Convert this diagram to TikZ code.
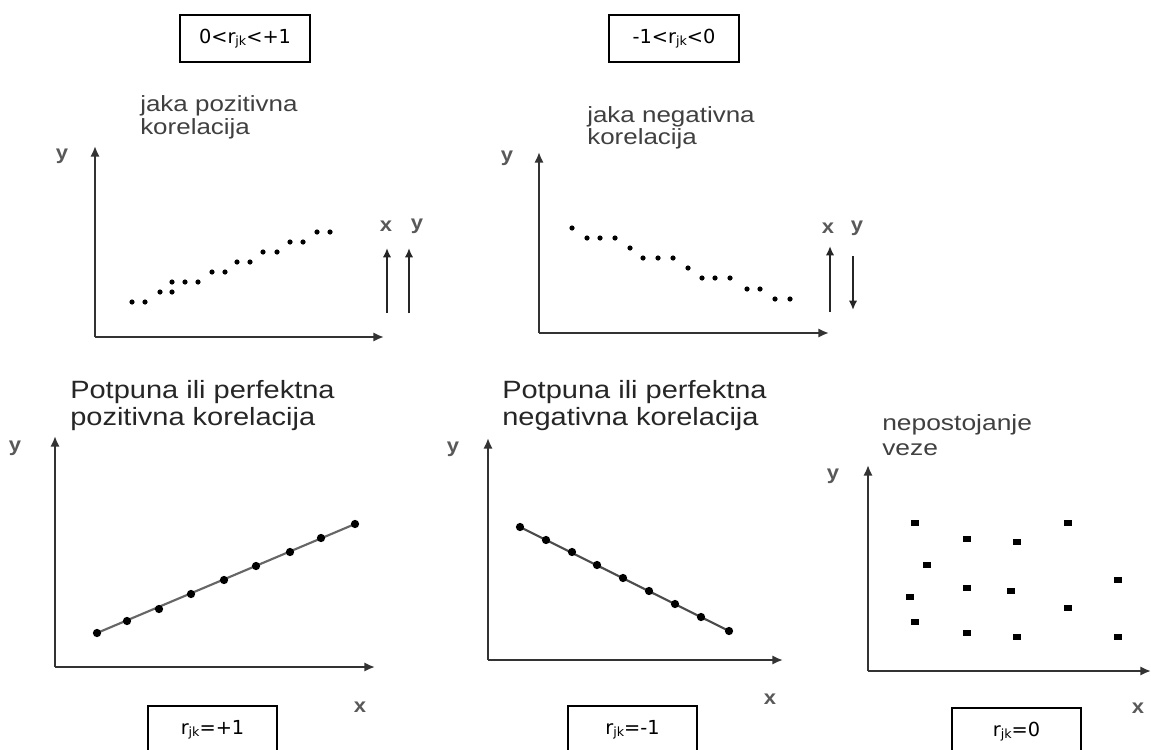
\documentclass[tikz,border=0pt]{standalone}
\usepackage{graphicx}
\usepackage{fontspec}
\setmainfont{Liberation Sans}
\newfontfamily\boxfont{DejaVu Sans}
\usetikzlibrary{arrows.meta}
\newcommand{\rjk}{r\raisebox{-1.4pt}{\fontsize{9.5}{9.5}\selectfont jk}}
\newcommand{\stretchx}[2]{\scalebox{#1}[1]{#2}}
\begin{document}
\begin{tikzpicture}[x=0.75pt,y=-0.75pt,
  axis/.style={draw=black!80,line width=1.8pt,-{Latex[length=8pt,width=7pt]}},
  updown/.style={draw=black!85,line width=1.7pt,-{Latex[length=7pt,width=6.3pt]}},
  dot/.style={circle,fill=black,inner sep=0pt,minimum size=3.9pt},
  bigdot/.style={circle,fill=black,inner sep=0pt,minimum size=6.2pt},
  sqdot/.style={rectangle,fill=black,inner sep=0pt,minimum width=6pt,minimum height=4.4pt},
  perfline/.style={draw=black!60,line width=1.6pt},
  title/.style={inner sep=0pt,anchor=base west,text=black!75,font=\fontsize{16.5}{18}\selectfont},
  bigtitle/.style={inner sep=0pt,anchor=base west,text=black!85,font=\fontsize{18.75}{20}\selectfont},
  lab/.style={inner sep=0pt,text=black!65,font=\bfseries\fontsize{15}{15}\selectfont},
  rbox/.style={draw=black,line width=1.6pt,font=\boxfont\fontsize{14.5}{14.5}\selectfont,
               minimum width=97.5pt,minimum height=35pt,inner sep=0pt},
  rboxb/.style={draw=black,line width=1.6pt,font=\boxfont\fontsize{14.5}{14.5}\selectfont,
               minimum width=96.75pt,anchor=north,inner xsep=0pt,inner ysep=0pt,
               text height=21.5pt,text depth=24pt}
]
\useasboundingbox (0,0) rectangle (1151,749);
\fill[white] (0,0) rectangle (1151,749);

% ---------- top boxes ----------
\node[rbox] (boxTL) at (245,38.5) {0<\rjk<+1};
\node[rbox] (boxTR) at (674,38.5) {-1<\rjk<0};

% ---------- top-left panel ----------
\node[title] (tTL1) at (140,111) {\stretchx{1.18}{jaka pozitivna}};
\node[title] (tTL2) at (140,134) {\stretchx{1.18}{korelacija}};
\coordinate (tlO) at (95,337);
\coordinate (tlY) at (95,146);
\coordinate (tlX) at (384,337);
\draw[axis] (tlO) -- (tlY);
\draw[axis] (tlO) -- (tlX);
\node[lab] (tlYl) at (62,156) {\stretchx{1.1}{y}};
\foreach \i/\px/\py in {1/132/302,2/145/302,3/160/292,4/172/292,5/172/282,6/185/282,7/198/282,
  8/212/272,9/225/272,10/237/262,11/250/262,12/263/252,13/277/252,14/290/242,15/303/242,16/317/232,17/330/232}
  \node[dot] (tld\i) at (\px,\py) {};
\node[lab] (tlxl) at (386,226) {\stretchx{1.1}{x}};
\node[lab] (tlyl2) at (417,226) {\stretchx{1.1}{y}};
\coordinate (tlxa0) at (387,313);
\coordinate (tlxa1) at (387,248);
\coordinate (tlya0) at (409,313);
\coordinate (tlya1) at (409,248);
\draw[updown] (tlxa0) -- (tlxa1);
\draw[updown] (tlya0) -- (tlya1);

% ---------- top-right panel ----------
\node[title] (tTR1) at (587,122) {\stretchx{1.18}{jaka negativna}};
\node[title] (tTR2) at (587,144) {\stretchx{1.18}{korelacija}};
\coordinate (trO) at (539,333);
\coordinate (trY) at (539,152);
\coordinate (trX) at (829,333);
\draw[axis] (trO) -- (trY);
\draw[axis] (trO) -- (trX);
\node[lab] (trYl) at (507,158) {\stretchx{1.1}{y}};
\foreach \i/\px/\py in {1/572/228,2/587/238,3/600/238,4/615/238,5/630/248,6/643/258,7/658/258,8/673/258,
  9/688/268,10/702/278,11/715/278,12/730/278,13/747/289,14/760/289,15/775/299,16/790/299}
  \node[dot] (trd\i) at (\px,\py) {};
\node[lab] (trxl) at (828,228) {\stretchx{1.1}{x}};
\node[lab] (tryl2) at (857,228) {\stretchx{1.1}{y}};
\coordinate (trxa0) at (830,312);
\coordinate (trxa1) at (830,246);
\coordinate (trya0) at (853,256);
\coordinate (trya1) at (853,310);
\draw[updown] (trxa0) -- (trxa1);
\draw[updown] (trya0) -- (trya1);

% ---------- bottom-left panel ----------
\node[bigtitle] (tBL1) at (70,398) {\stretchx{1.16}{Potpuna ili perfektna}};
\node[bigtitle] (tBL2) at (70,425) {\stretchx{1.16}{pozitivna korelacija}};
\coordinate (blO) at (55,667);
\coordinate (blY) at (55,436);
\coordinate (blX) at (375,667);
\draw[axis] (blO) -- (blY);
\draw[axis] (blO) -- (blX);
\node[lab] (blYl) at (15,448) {\stretchx{1.1}{y}};
\node[lab] (blXl) at (360,707) {\stretchx{1.1}{x}};
\foreach \i/\px/\py in {1/97/633,2/127/621,3/159/609,4/191/594,5/224/580,6/256/566,7/290/552,8/321/538,9/355/524}
  \coordinate (blc\i) at (\px,\py);
\draw[perfline] (blc1) -- (blc9);
\foreach \i in {1,...,9} \node[bigdot] (bld\i) at (blc\i) {};
\node[rboxb] (boxBL) at (212.5,705) {\rjk=+1};

% ---------- bottom-middle panel ----------
\node[bigtitle] (tBM1) at (502,398) {\stretchx{1.16}{Potpuna ili perfektna}};
\node[bigtitle] (tBM2) at (502,425) {\stretchx{1.16}{negativna korelacija}};
\coordinate (bmO) at (488,660);
\coordinate (bmY) at (488,438);
\coordinate (bmX) at (783,660);
\draw[axis] (bmO) -- (bmY);
\draw[axis] (bmO) -- (bmX);
\node[lab] (bmYl) at (453,449) {\stretchx{1.1}{y}};
\node[lab] (bmXl) at (770,699) {\stretchx{1.1}{x}};
\foreach \i/\px/\py in {1/520/527,2/546/540,3/572/552,4/597/565,5/623/578,6/649/591,7/675/604,8/701/617,9/729/631}
  \coordinate (bmc\i) at (\px,\py);
\draw[perfline,draw=black!70] (bmc1) -- (bmc9);
\foreach \i in {1,...,9} \node[bigdot] (bmd\i) at (bmc\i) {};
\node[rboxb] (boxBM) at (632.5,705) {\rjk=-1};

% ---------- bottom-right panel ----------
\node[title] (tBR1) at (882,430) {\stretchx{1.2}{nepostojanje}};
\node[title] (tBR2) at (882,455) {\stretchx{1.2}{veze}};
\coordinate (brO) at (868,671);
\coordinate (brY) at (868,465);
\coordinate (brX) at (1151,671);
\draw[axis] (brO) -- (brY);
\draw[axis] (brO) -- (brX);
\node[lab] (brYl) at (833,476) {\stretchx{1.1}{y}};
\node[lab] (brXl) at (1138,708) {\stretchx{1.1}{x}};
\foreach \i/\px/\py in {1/915/523,2/967/539,3/1017/542,4/1068/523,5/927/565,6/967/588,7/1011/591,
  8/1118/580,9/910/597,10/1068/608,11/915/622,12/967/633,13/1017/637,14/1118/637}
  \node[sqdot] (brd\i) at (\px,\py) {};
\node[rboxb] (boxBR) at (1016.5,707) {\rjk=0};
\end{tikzpicture}
\end{document}
